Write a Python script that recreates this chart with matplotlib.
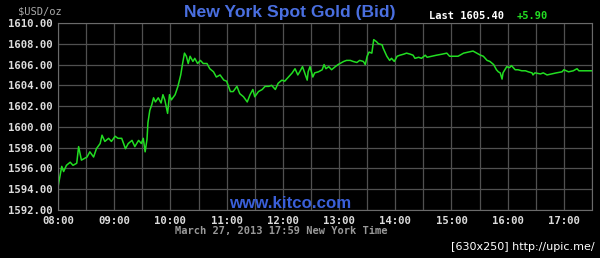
import matplotlib
matplotlib.use("Agg")
import matplotlib.pyplot as plt
from matplotlib.ticker import MultipleLocator, FuncFormatter

# === Data (minutes after 08:00, bid price) ===
minutes = [0, 2, 4, 6, 9, 13, 16, 20, 22, 25, 31, 34, 38, 41, 45, 47, 50, 54, 57, 61,
           64, 68, 72, 75, 79, 82, 86, 89, 91, 93, 95, 96, 98, 100, 102, 104, 107, 110,
           112, 114, 117, 119, 121, 125, 128, 131, 133, 135, 137, 139, 141, 144, 146, 149,
           152, 155, 159, 162, 166, 169, 173, 177, 180, 184, 187, 191, 194, 198, 202, 205,
           208, 210, 214, 218, 221, 225, 228, 232, 235, 239, 242, 246, 250, 253, 256, 258,
           261, 264, 266, 267, 269, 272, 274, 278, 282, 284, 286, 289, 292, 296, 299, 301,
           305, 308, 312, 315, 319, 322, 326, 328, 330, 332, 335, 337, 340, 342, 346, 347,
           351, 354, 356, 359, 362, 365, 369, 372, 376, 379, 381, 385, 388, 392, 394, 399,
           404, 410, 415, 418, 422, 427, 429, 433, 438, 443, 447, 451, 454, 458, 461, 465,
           468, 470, 472, 474, 475, 479, 482, 484, 488, 491, 495, 499, 502, 506, 507, 509,
           515, 518, 522, 527, 532, 538, 540, 545, 550, 554, 556, 561, 570]
prices = [1594.2, 1595.2, 1596.2, 1595.7, 1596.3, 1596.6, 1596.3, 1596.5, 1598.1, 1596.8,
          1597.1, 1597.6, 1597.1, 1597.9, 1598.4, 1599.2, 1598.6, 1598.9, 1598.6, 1599.1,
          1598.9, 1598.9, 1597.9, 1598.4, 1598.7, 1598.1, 1598.7, 1598.4, 1598.9, 1597.6,
          1598.8, 1600.4, 1601.6, 1602.1, 1602.8, 1602.4, 1602.8, 1602.3, 1603.1, 1602.6,
          1601.3, 1603.1, 1602.6, 1603.1, 1603.9, 1605.0, 1606.1, 1607.1, 1606.8, 1606.1,
          1606.8, 1606.3, 1606.6, 1606.1, 1606.4, 1606.1, 1606.1, 1605.6, 1605.3, 1604.8,
          1605.0, 1604.5, 1604.4, 1603.4, 1603.4, 1603.9, 1603.2, 1602.9, 1602.4, 1603.1,
          1603.6, 1602.9, 1603.4, 1603.6, 1603.9, 1603.9, 1604.0, 1603.6, 1604.2, 1604.5,
          1604.4, 1604.8, 1605.2, 1605.6, 1605.0, 1605.3, 1605.8, 1605.0, 1604.5, 1605.3,
          1605.8, 1604.8, 1605.2, 1605.3, 1605.5, 1606.0, 1605.6, 1605.8, 1605.5, 1605.8,
          1606.0, 1606.1, 1606.3, 1606.4, 1606.4, 1606.3, 1606.2, 1606.4, 1606.3, 1606.0,
          1606.8, 1607.2, 1607.1, 1608.4, 1608.2, 1608.0, 1607.9, 1607.6, 1606.8, 1606.4,
          1606.6, 1606.3, 1606.8, 1606.9, 1607.0, 1607.1, 1607.0, 1606.9, 1606.6, 1606.7,
          1606.6, 1606.9, 1606.7, 1606.8, 1606.9, 1607.0, 1607.1, 1606.8, 1606.8, 1606.8,
          1606.9, 1607.1, 1607.2, 1607.3, 1607.1, 1606.9, 1606.8, 1606.4, 1606.3, 1606.0,
          1605.5, 1605.3, 1605.2, 1604.6, 1605.2, 1605.8, 1605.7, 1605.9, 1605.5, 1605.5,
          1605.4, 1605.4, 1605.3, 1605.2, 1605.0, 1605.2, 1605.1, 1605.2, 1605.0, 1605.1,
          1605.2, 1605.3, 1605.5, 1605.3, 1605.4, 1605.6, 1605.4, 1605.4, 1605.4]
hour_labels = ["08:00", "09:00", "10:00", "11:00", "12:00", "13:00", "14:00", "15:00", "16:00", "17:00"]
last_price = "1605.40"
change = "+5.90"

# === Figure ===
fig = plt.figure(figsize=(6, 2.58), dpi=100, facecolor="black")
ax = fig.add_axes([58 / 600, 48 / 258, 534 / 600, 187 / 258], facecolor="black")

ax.plot(minutes, prices, color="#22dd22", lw=1.1)

ax.set_xlim(0, 570)
ax.set_ylim(1592, 1610)
ax.set_xticks([i * 60 for i in range(len(hour_labels))])
ax.set_xticklabels(hour_labels)
ax.xaxis.set_minor_locator(MultipleLocator(30))
ax.yaxis.set_major_locator(MultipleLocator(2))
ax.yaxis.set_major_formatter(FuncFormatter(lambda v, p: f"{v:.2f}"))

ax.grid(True, which="both", color="#505050", lw=0.9)
ax.tick_params(which="both", length=0, colors="#dddddd", pad=4)
for lab in ax.get_xticklabels() + ax.get_yticklabels():
    lab.set_family("DejaVu Sans Mono")
    lab.set_fontweight("bold")
    lab.set_fontsize(7.7)
for s in ax.spines.values():
    s.set_color("#6a6a6a")

mono = "DejaVu Sans Mono"
fig.text(18 / 600, 1 - 12 / 258, "$USD/oz", color="#aaaaaa", family=mono, fontsize=7.5,
         va="center", ha="left")
fig.text(290 / 600, 1 - 12 / 258, "New York Spot Gold (Bid)", color="#4a6fe0",
         family="Liberation Sans", fontweight="bold", fontsize=12.6, va="center", ha="center")
fig.text(429 / 600, 1 - 16 / 258, "Last " + last_price, color="white", family=mono,
         fontweight="bold", fontsize=7.5, va="center", ha="left")
fig.text(517 / 600, 1 - 16 / 258, change, color="#22dd22", family=mono,
         fontweight="bold", fontsize=7.5, va="center", ha="left")
fig.text(290 / 600, 1 - 203 / 258, "www.kitco.com", color="#3a5fd8",
         family="Liberation Sans", fontweight="bold", fontsize=12.2, va="center", ha="center")
fig.text(281 / 600, 1 - 231 / 258, "March 27, 2013 17:59 New York Time", color="#999999",
         family=mono, fontweight="bold", fontsize=7.5, va="center", ha="center")
fig.text(595 / 600, 1 - 247 / 258, "[630x250] http://upic.me/", color="white",
         fontsize=8, va="center", ha="right")

plt.savefig("out.png", dpi=100, facecolor="black")
plt.close()
